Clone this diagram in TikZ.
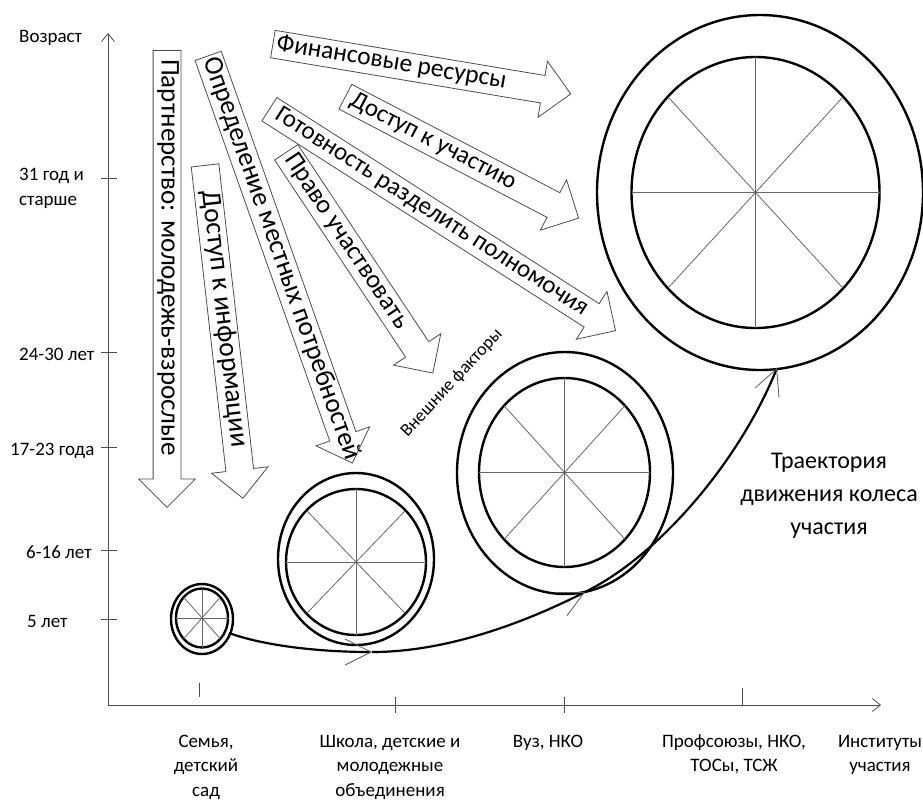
\documentclass[tikz,border=0pt]{standalone}
\usepackage{fontspec}
\setmainfont{Carlito}
\usetikzlibrary{arrows.meta,shapes.arrows,calc,positioning}

\tikzset{
  axis/.style={black!70, line width=0.8pt, -{Straight Barb[length=8pt,width=13pt]}},
  tick/.style={black!70, line width=0.8pt},
  age/.style={font=\fontsize{19}{25}\selectfont, align=left, inner sep=0pt, anchor=base west},
  inst/.style={font=\fontsize{19}{24.5}\selectfont, align=center, inner sep=0pt, anchor=base},
  factor/.style={single arrow, draw=black!70, fill=white, line width=0.8pt,
    inner ysep=13.5pt, inner xsep=0pt, single arrow head extend=14.5pt,
    single arrow tip angle=90, anchor=tail},
  factortext/.style={font=\fontsize{#1}{30}\selectfont, anchor=west, inner sep=0pt,
    text height=17pt, text depth=6pt},
  factortext/.default=26,
  rim/.style={line width=2.4pt},
  spoke/.style={black!60, line width=0.8pt},
  route/.style={line width=2.2pt, -{Straight Barb[length=26pt,width=26pt,line width=0.8pt 0,color=black!65]}}
}

\begin{document}
\begin{tikzpicture}[x=1pt, y=-1pt]
    \useasboundingbox (0,0) rectangle (923,801);

    % axes
    \coordinate (O) at (108,705);
    \coordinate (ytop) at (108,33);
    \coordinate (xend) at (881,705);
    \draw[axis] (O) -- (ytop);
    \draw[axis] (O) -- (xend);
    \foreach \y in {178,352,447,550,619}
        \draw[tick] (101,\y) -- (117,\y);
    \foreach \x/\ya/\yb in {199/683/697, 395/697/713, 564/697/713, 742/688/705}
        \draw[tick] (\x,\ya) -- (\x,\yb);

    \node[age] (age0) at (19,42) {Возраст};
    \node[age] (age31) at (19,205) {31 год и\\старше};
    \node[age] (age24) at (19,360) {24-30 лет};
    \node[age] (age17) at (10,455) {17-23 года};
    \node[age] (age6) at (26,558) {6-16 лет};
    \node[age] (age5) at (27,627) {5 лет};

    \node[inst] (family) at (206,796) {Семья,\\детский\\сад};
    \node[inst] (school) at (390,796) {Школа, детские и\\молодежные\\объединения};
    \node[inst] (univ) at (548,747) {Вуз, НКО};
    \node[inst] (unions) at (734,771.5) {Профсоюзы, НКО,\\ТОСы, ТСЖ};
    \node[inst] (institutes) at (880,771.5) {Институты\\участия};

    % wheels
    \foreach \cx/\cy/\rx/\ry/\ox/\oy/\Rx/\Ry in {
        202/618/26/29.5/202/619/31/35,
        356/562/70/73/356/559/78/86,
        564.5/472.5/85.5/94.5/565/473/108/121,
        755.5/192.5/124/135.5/760/192.5/163/177.5}
    {
        \draw[rim] (\ox,\oy) ellipse [x radius=\Rx, y radius=\Ry];
        \draw[rim] (\cx,\cy) ellipse [x radius=\rx, y radius=\ry];
        \foreach \a in {0,45,...,315}
            \draw[spoke] (\cx,\cy) -- ++({\rx*cos(\a)},{\ry*sin(\a)});
    }

    % trajectory
    \coordinate (r0) at (229,633);
    \coordinate (r1) at (372,652);
    \coordinate (r2) at (585,592);
    \coordinate (r3) at (777,368);
    \draw[route] (r0) .. controls (265,646) and (320,652) .. (r1);
    \draw[route] (r1) .. controls (450,652) and (530,620) .. (r2);
    \draw[route] (r2) .. controls (660,555) and (740,460) .. (r3);

    % factors
    \node[factor, rotate=-9.5, minimum height=302] (finance) at (272.5,44) {};
    \node[factortext=25.5, rotate=-9.5] (financetext) at ($(finance.tail)!4pt!(finance.tip)$) {Финансовые ресурсы};
    \node[factor, rotate=-27.5, minimum height=263] (access) at (345,96.5) {};
    \node[factortext=25, rotate=-27.5] (accesstext) at ($(access.tail)!7pt!(access.tip)$) {Доступ к участию};
    \node[factor, rotate=-56.4, minimum height=265] (right) at (286,152) {};
    \node[factortext=26, rotate=-56.4] (righttext) at ($(right.tail)!5pt!(right.tip)$) {Право участвовать};
    \node[factor, rotate=-32.6, minimum height=411] (ready) at (269,109) {};
    \node[factortext=25, rotate=-32.6] (readytext) at ($(ready.tail)!9pt!(ready.tip)$) {Готовность разделить полномочия};
    \node[factor, rotate=-70.5, minimum height=432] (needs) at (208,55.5) {};
    \node[factortext=27, rotate=-70.5] (needstext) at ($(needs.tail)!3pt!(needs.tip)$) {Определение местных потребностей};
    \node[factor, rotate=-83.5, minimum height=335] (info) at (205,165) {};
    \node[factortext=27.5, rotate=-83.5] (infotext) at ($(info.tail)!26pt!(info.tip)$) {Доступ к информации};
    \node[factor, rotate=-90, minimum height=457] (partner) at (167,50) {};
    \node[factortext=27, rotate=-90] (partnertext) at ($(partner.tail)!9pt!(partner.tip)$) {Партнерство: молодежь-взрослые};

    \node[font=\fontsize{18}{20}\selectfont, rotate=47] (external) at (452,383) {Внешние факторы};
    \node[font=\fontsize{24}{33}\selectfont, align=center, anchor=base] (route) at (829,534) {Траектория\\движения колеса\\участия};
\end{tikzpicture}
\end{document}
